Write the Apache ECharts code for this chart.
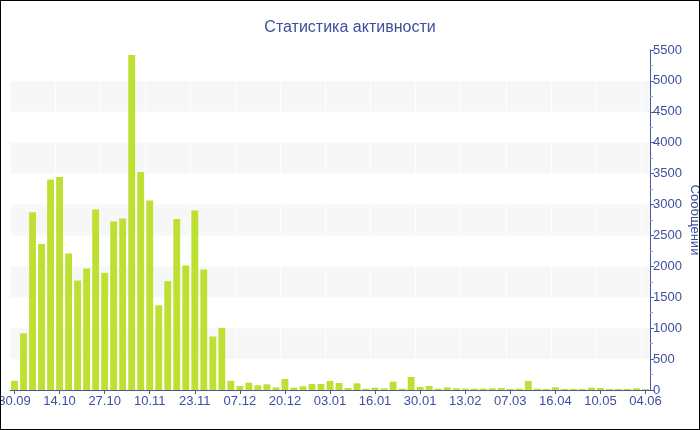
<!DOCTYPE html>
<html>
<head>
<meta charset="utf-8">
<script src="https://cdn.jsdelivr.net/npm/echarts@6/dist/echarts.min.js"></script>
<style>
html,body{margin:0;padding:0;background:#fff;}
#wrap{position:relative;width:700px;height:430px;}
#chart{width:700px;height:430px;}
#frame{position:absolute;left:0;top:0;width:700px;height:430px;box-sizing:border-box;border:1px solid #000;pointer-events:none;}
</style>
</head>
<body>
<div id="wrap"><div id="chart"></div><div id="frame"></div></div>
<script>
var categories = ['30.09','03.10','06.10','08.10','11.10','14.10','17.10','19.10','22.10','24.10',
  '27.10','30.10','02.11','04.11','07.11','10.11','13.11','15.11','18.11','20.11',
  '23.11','26.11','29.11','01.12','04.12','07.12','10.12','12.12','15.12','17.12',
  '20.12','23.12','26.12','28.12','31.12','03.01','06.01','08.01','11.01','13.01',
  '16.01','19.01','22.01','25.01','27.01','30.01','02.02','05.02','08.02','10.02',
  '13.02','17.02','22.02','26.02','03.03','07.03','15.03','23.03','31.03','08.04',
  '16.04','21.04','26.04','30.04','05.05','10.05','15.05','20.05','25.05','30.05','04.06'];
var messages = [150, 915, 2875, 2360, 3405, 3445, 2210, 1770, 1965, 2920,
  1895, 2725, 2775, 5420, 3525, 3065, 1370, 1760, 2765, 2015,
  2905, 1950, 865, 1005, 148, 65, 118, 76, 92, 43,
  178, 38, 59, 97, 97, 146, 113, 32, 108, 22,
  38, 27, 135, 22, 210, 49, 65, 22, 43, 27,
  22, 22, 22, 27, 32, 16, 22, 146, 22, 16,
  43, 16, 16, 16, 38, 32, 16, 16, 16, 27, 16];
var yTicks = [0, 500, 1000, 1500, 2000, 2500, 3000, 3500, 4000, 4500, 5000, 5500];

var textColor = '#3e4f9b';
var axisColor = '#4a5aa0';
var fontFamily = '"Liberation Sans", Arial, sans-serif';

var chart = echarts.init(document.getElementById('chart'), null, {renderer: 'canvas'});
chart.setOption({
  animation: false,
  title: {
    text: 'Статистика активности',
    left: 'center',
    top: 15,
    textStyle: {color: textColor, fontSize: 16, fontWeight: 'normal', fontFamily: fontFamily}
  },
  grid: {left: 10, right: 50, top: 50, bottom: 40, containLabel: false, outerBoundsMode: 'none'},
  xAxis: {
    type: 'category',
    data: categories,
    boundaryGap: true,
    axisLine: {lineStyle: {color: axisColor, width: 1}},
    axisTick: {show: true, interval: 4, alignWithLabel: true, length: 4, lineStyle: {color: axisColor}},
    axisLabel: {interval: 4, color: textColor, fontSize: 13, fontFamily: fontFamily, margin: 5, hideOverlap: false},
    splitLine: {show: true, interval: 4, lineStyle: {color: 'rgba(255,255,255,0.8)'}}
  },
  yAxis: {
    type: 'value',
    position: 'right',
    min: yTicks[0],
    max: yTicks[yTicks.length - 1],
    interval: 500,
    name: 'Сообщений',
    nameLocation: 'middle',
    nameRotate: -90,
    nameGap: 38,
    nameMoveOverlap: false,
    nameTextStyle: {color: textColor, fontSize: 13, fontFamily: fontFamily},
    axisLine: {show: true, lineStyle: {color: axisColor}},
    axisTick: {show: true, length: 4, lineStyle: {color: axisColor}},
    minorTick: {show: true, splitNumber: 2, length: 3, lineStyle: {color: '#9aa3c8'}},
    axisLabel: {color: textColor, fontSize: 13, fontFamily: fontFamily, margin: 3,
      formatter: function (v) { return String(v); }},
    splitLine: {show: false},
    splitArea: {show: true, areaStyle: {color: ['rgba(255,255,255,0)', '#f7f7f7']}}
  },
  series: [{
    type: 'bar',
    data: messages,
    barCategoryGap: '24%',
    itemStyle: {color: '#bde032'}
  }]
});
</script>
</body>
</html>
